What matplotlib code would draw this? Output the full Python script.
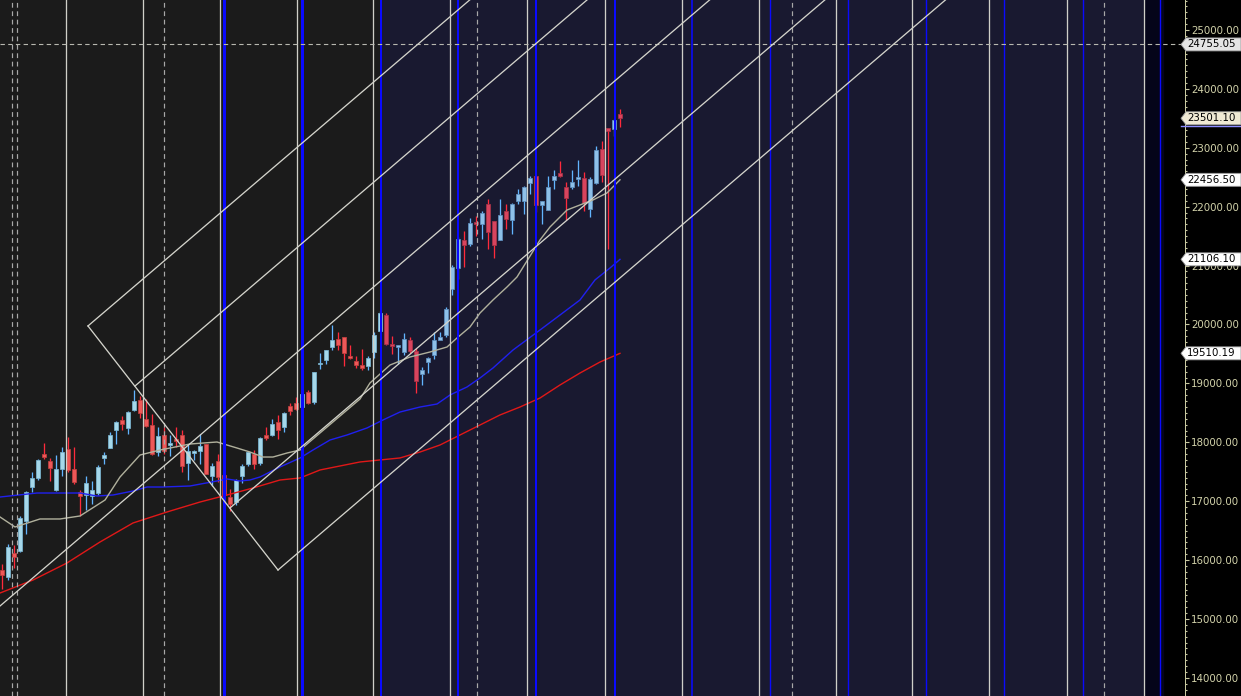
import numpy as np
import matplotlib.pyplot as plt
from matplotlib.patches import Polygon, Rectangle
from matplotlib.transforms import IdentityTransform

# weekly candles, week ending 1 Jul 2022 .. 21 Jun 2024
opens = [15832, 15710, 16128, 16151, 16662, 17244, 17402, 17797, 17682, 17188,
         17546, 17890, 17541, 17157, 17102, 17094, 17144, 17736, 17910, 18211,
         18376, 18246, 18552, 18719, 18403, 18288, 17831, 18131, 17953, 18033,
         18118, 17649, 17818, 17847, 17965, 17428, 17680, 17443, 17067, 16985,
         17428, 17634, 17807, 17640, 18124, 18120, 18339, 18258, 18619, 18664,
         18595, 18849, 18682, 19322, 19400, 19612, 19749, 19784, 19463, 19383,
         19320, 19298, 19525, 19890, 20155, 19675, 19622, 19540, 19731, 19542,
         19153, 19365, 19486, 19745, 19828, 20602, 20965, 21434, 21365, 21728,
         21705, 22054, 21750, 21433, 21921, 21781, 22103, 22090, 22403, 22517,
         22026, 21947, 22456, 22578, 22339, 22336, 22475, 22489, 21955, 22404,
         22977, 23338, 23320, 23570]
highs = [15927, 16275, 16249, 16752, 17172, 17490, 17719, 17992, 17726, 17777,
         17925, 18096, 17919, 17187, 17428, 17348, 17607, 17838, 18176, 18362,
         18442, 18534, 18888, 18782, 18728, 18473, 18265, 18252, 18127, 18265,
         18202, 17972, 17876, 18134, 17972, 17644, 17799, 17529, 17207, 17381,
         17638, 17842, 17863, 18090, 18263, 18389, 18459, 18508, 18662, 18777,
         18864, 18887, 19201, 19524, 19567, 19991, 19867, 19795, 19645, 19465,
         19584, 19458, 19867, 20222, 20195, 19798, 19660, 19849, 19782, 19593,
         19276, 19451, 19875, 19875, 20291, 21006, 21492, 21593, 21801, 21834,
         21929, 22124, 21750, 22127, 22053, 22068, 22297, 22353, 22525, 22526,
         22105, 22517, 22619, 22776, 22427, 22625, 22794, 22588, 22502, 23026,
         23111, 23338, 23490, 23667]
lows = [15511, 15661, 15858, 16143, 16438, 17154, 17359, 17710, 17345, 17166,
        17429, 17497, 17291, 16748, 16855, 16950, 17098, 17637, 17899, 17969,
        18209, 18133, 18538, 18410, 18255, 17779, 17775, 17795, 17774, 17922,
        17493, 17353, 17699, 17627, 17455, 17255, 17324, 16850, 16828, 16941,
        17313, 17597, 17553, 17613, 18043, 18100, 18060, 18180, 18464, 18543,
        18555, 18646, 18647, 19241, 19327, 19562, 19563, 19296, 19413, 19253,
        19229, 19223, 19432, 19865, 19657, 19492, 19333, 19480, 19518, 18837,
        18973, 19177, 19420, 19768, 19788, 20507, 20770, 20977, 21330, 21500,
        21448, 21286, 21137, 21429, 21629, 21530, 22046, 21875, 22224, 21905,
        21711, 21947, 22306, 22503, 21777, 22306, 22348, 21932, 21821, 22378,
        22417, 21281, 23206, 23350]
closes = [15752, 16220, 16049, 16719, 17158, 17398, 17698, 17758, 17559, 17539,
          17833, 17531, 17327, 17094, 17315, 17186, 17576, 17787, 18117, 18350,
          18308, 18512, 18697, 18497, 18269, 17807, 18105, 17859, 17956, 18027,
          17604, 17854, 17856, 17944, 17465, 17594, 17413, 17100, 16945, 17360,
          17599, 17828, 17624, 18065, 18069, 18315, 18203, 18499, 18534, 18563,
          18826, 18665, 19189, 19332, 19564, 19745, 19646, 19517, 19428, 19310,
          19266, 19435, 19820, 20193, 19674, 19638, 19654, 19751, 19542, 19047,
          19231, 19425, 19732, 19795, 20268, 20969, 21456, 21349, 21731, 21710,
          21895, 21572, 21353, 21854, 21783, 22041, 22212, 22338, 22493, 22023,
          22097, 22327, 22514, 22519, 22147, 22420, 22476, 22055, 22466, 22957,
          22531, 23290, 23466, 23501]

# moving averages (bar index, price)
ma_gray_x = [-0.33, 2.17, 6.33, 9.67, 13, 17.17, 19.67, 23, 26.33, 31.33, 35.83, 39.17,
             41.33, 43.5, 45.17, 47.5, 49.67, 53, 56.33, 59.67, 61.33, 64.67, 68, 71.33,
             74.17, 75.83, 78, 79.67, 81.83, 84.17, 85.83, 89.67, 91.33, 94.17, 96.33,
             98.5, 100.83, 103]
ma_gray_y = [16732, 16562, 16698, 16698, 16749, 17020, 17411, 17784, 17869, 17971, 18005, 17903,
             17835, 17750, 17750, 17818, 17869, 18158, 18446, 18735, 19007, 19312, 19448, 19533,
             19618, 19771, 19958, 20195, 20416, 20637, 20806, 21435, 21655, 21944, 22029,
             22114, 22233, 22456.5]
ma_blue_x = [-0.33, 5.83, 13, 15.83, 18.5, 21.83, 24.17, 26.83, 31.33, 35.83, 37.5, 39.67,
             41.33, 43, 46.33, 49.67, 51.83, 54.67, 57.5, 60.83, 63.5, 66.33, 69.67, 72.5,
             74.67, 77.5, 79.67, 81.83, 85.17, 89.67, 93, 96.33, 98.83, 101.33, 103]
ma_blue_y = [17071, 17139, 17139, 17088, 17105, 17173, 17241, 17241, 17258, 17343, 17377, 17343,
             17360, 17411, 17581, 17733, 17869, 18039, 18124, 18243, 18379, 18514, 18599, 18650,
             18803, 18939, 19092, 19261, 19567, 19907, 20161, 20416, 20756, 20959, 21106.1]
ma_red_x = [-0.33, 5.17, 10.83, 16.33, 21.83, 27.5, 33, 37.5, 41.83, 46.33, 49.67, 53,
            59.67, 66.33, 69.67, 73, 76.33, 79.67, 83, 86.33, 89.67, 93, 96.33, 99.67, 103]
ma_red_y = [15441, 15662, 15951, 16307, 16630, 16817, 16986, 17105, 17224, 17360, 17394, 17530,
            17666, 17734, 17835, 17954, 18124, 18294, 18464, 18599, 18752, 18973, 19176, 19363,
            19510.19]

# parallel channel lines: start bar, start price (slope in points per bar)
chan_start_x = [-0.33, 14.33, 22.17, 38.0, 46.0]
chan_start_y = [15221, 19975, 18956, 16885, 15832]
chan_slope = 87.0
cross_x = [14.33, 46.0]
cross_y = [19975, 15832]

# time cycle markers (bar index)
white_lines = [10.62, 23.45, 36.28, 49.12, 61.88, 74.72, 87.55, 100.45, 113.33,
               126.1, 138.95, 151.75, 164.55, 177.47, 190.27]
blue_lines = [37.05, 50.05, 63.12, 76.05, 89.05, 102.12, 115.08, 128.07, 141.0,
              154.07, 167.05, 180.15, 193.07]
blue_widths = [3, 3, 2, 2, 2, 2, 1.6, 1.4, 1.4, 1.4, 1.4, 1.4, 1.4]
dashed_lines = [1.62, 2.55, 27.05, 79.22, 131.63, 183.6]
level = 24755.05

label_vals = [24755.05, 23501.10, 22456.50, 21106.10, 19510.19]
label_faces = ['#e4e4e4', '#f0ead4', '#ffffff', '#ffffff', '#ffffff']

W, H = 1241, 696
fig = plt.figure(figsize=(W / 100, H / 100), dpi=100, facecolor='black')
ax = fig.add_axes([0, 0, 1185 / W, 1])
ax.set_facecolor('black')
ax.set_xlim(-1 / 3, 197.17)
ax.set_ylim(13692.6, 25509.3)

px = 0.72  # points per pixel
ax.axvspan(-1, 63.17, color='#1b1b1b', zorder=0)
ax.axvspan(63.17, 190.33, color='#191930', zorder=0)
ax.axvspan(190.33, 193.5, color='#05051a', zorder=0)

# candles
for i, (o, h, l, c) in enumerate(zip(opens, highs, lows, closes)):
    navy = i > 63
    if c >= o:
        face = '#8ec0e8' if navy else '#a6d8ea'
        edge = '#5f90c0' if navy else '#7ab4d0'
        wick = '#62b4ff'
    else:
        face = '#d8445e' if navy else '#ee5858'
        edge = '#a83448' if navy else '#c04040'
        wick = '#ff2a3c'
    ax.vlines(i, l, h, color=wick, lw=1.3 * px, zorder=2)
    lo = min(o, c)
    hgt = max(abs(c - o), 30)
    ax.add_patch(Rectangle((i - 0.36, lo), 0.72, hgt, facecolor=face,
                           edgecolor=edge, lw=0.8 * px, zorder=3))

# moving averages
ax.plot(ma_red_x, ma_red_y, color='#e01818', lw=1.4 * px, zorder=4)
ax.plot(ma_blue_x, ma_blue_y, color='#2020ee', lw=1.4 * px, zorder=4)
ax.plot(ma_gray_x, ma_gray_y, color='#b0b09c', lw=1.4 * px, zorder=4)

# vertical markers
for x in white_lines:
    ax.axvline(x, color='#cfcfc8', lw=1.3 * px, zorder=5)
for x, w in zip(blue_lines, blue_widths):
    ax.axvline(x, color='#0a0aff', lw=w * px, zorder=5)
for x in dashed_lines:
    ax.axvline(x, color='#a8a8a8', lw=1.2 * px, ls=(0, (4, 3)), zorder=5)
ax.axhline(level, color='#b8b8b0', lw=1.1 * px, ls=(0, (4, 3)), zorder=5)

# channel
for sx, sy in zip(chan_start_x, chan_start_y):
    ex = sx + 140
    ax.plot([sx, ex], [sy, sy + chan_slope * 140], color='#d4d4cc', lw=1.3 * px, zorder=6)
ax.plot(cross_x, cross_y, color='#d4d4cc', lw=1.3 * px, zorder=6)

# axis styling
ax.xaxis.set_visible(False)
for s in ['top', 'bottom', 'left']:
    ax.spines[s].set_visible(False)
ax.spines['right'].set_color('#c8c8a0')
ax.spines['right'].set_linewidth(1.0 * px)
ax.yaxis.tick_right()
yt = np.arange(14000, 25001, 1000)
ax.set_yticks(yt)
ax.set_yticklabels([f'{v:.2f}' for v in yt])
ax.set_yticks(np.arange(13700, 25501, 100), minor=True)
ax.tick_params(axis='y', which='major', direction='out', length=4 * px, width=0.8,
               color='#c8c8a0', labelcolor='#d2d2aa', labelsize=7.4, pad=1.5)
ax.tick_params(axis='y', which='minor', direction='out', length=2.5 * px, width=0.8,
               color='#c8c8a0')
for t in ax.get_yticklabels():
    t.set_family('DejaVu Sans')

# price tags on the axis
fig.canvas.draw()
for v, fc in zip(label_vals, label_faces):
    y = ax.transData.transform((0, v))[1]
    pts = [(1181, y), (1186, y + 6.5), (1241, y + 6.5), (1241, y - 6.5), (1186, y - 6.5)]
    fig.add_artist(Polygon(pts, closed=True, facecolor=fc, edgecolor='#9a9a9a',
                           lw=0.6, transform=IdentityTransform(), zorder=10))
    fig.text(1187, y, f'{v:.2f}', transform=IdentityTransform(), va='center', ha='left',
             fontsize=7.4, color='black', zorder=11)
    if v == 23501.10:
        fig.add_artist(plt.Line2D([1181, 1241], [y - 7.5, y - 7.5], color='#8c8cff',
                                  lw=1.4 * px, transform=IdentityTransform(), zorder=10))

fig.savefig('out.png', dpi=100, facecolor='black')
